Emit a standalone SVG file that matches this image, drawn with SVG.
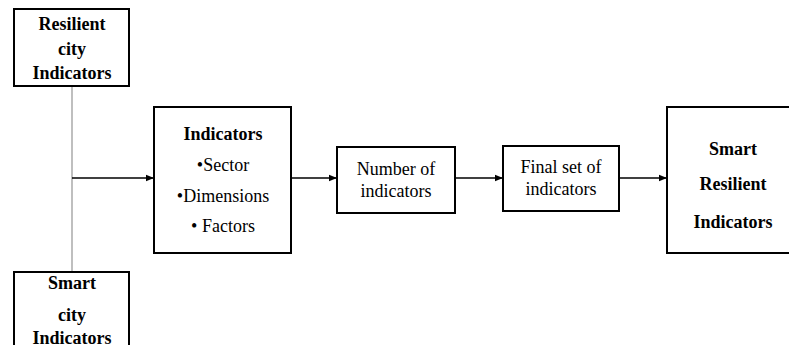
<svg xmlns="http://www.w3.org/2000/svg" width="789" height="345" viewBox="0 0 789 345">
<style>
.box{fill:#fff;stroke:#000;stroke-width:2}
.b{font-weight:bold}
.c{stroke:#000;stroke-width:1.3;fill:none}
</style>
<defs>
<marker id="ah" markerWidth="8" markerHeight="8" refX="7" refY="4" orient="auto" markerUnits="userSpaceOnUse">
<path d="M0,0.8 L8,4 L0,7.2 Z" fill="#000"/>
</marker>
</defs>
<g id="connectors">
<line x1="72" y1="86" x2="72" y2="272" stroke="#aaa" stroke-width="1.5"/>
<line class="c" x1="72" y1="178" x2="153" y2="178" marker-end="url(#ah)"/>
<line class="c" x1="291" y1="178" x2="336" y2="178" marker-end="url(#ah)"/>
<line class="c" x1="455" y1="178" x2="502" y2="178" marker-end="url(#ah)"/>
<line class="c" x1="619" y1="178" x2="666" y2="178" marker-end="url(#ah)"/>
</g>
<g font-family="Liberation Serif, DejaVu Serif, serif" font-size="18" text-anchor="middle" fill="#000">
<g id="resilient-city">
<rect class="box" x="14" y="9" width="115" height="77"/>
<text class="b" x="72" y="30">Resilient</text>
<text class="b" x="72" y="55">city</text>
<text class="b" x="72" y="79">Indicators</text>
</g>
<g id="smart-city">
<rect class="box" x="14" y="272" width="115" height="90"/>
<text class="b" x="72" y="289">Smart</text>
<text class="b" x="72" y="321">city</text>
<text class="b" x="72" y="344">Indicators</text>
</g>
<g id="indicators">
<rect class="box" x="154" y="107" width="137" height="146"/>
<text class="b" x="223" y="140">Indicators</text>
<text x="223" y="171">•Sector</text>
<text x="223" y="202">•Dimensions</text>
<text x="223" y="232">• Factors</text>
</g>
<g id="number">
<rect class="box" x="337" y="147" width="118" height="66"/>
<text x="396" y="175">Number of</text>
<text x="396" y="197">indicators</text>
</g>
<g id="final">
<rect class="box" x="503" y="146" width="116" height="65"/>
<text x="561" y="173">Final set of</text>
<text x="561" y="195">indicators</text>
</g>
<g id="smart-resilient">
<rect class="box" x="667" y="107" width="130" height="146"/>
<text class="b" x="733" y="155">Smart</text>
<text class="b" x="733" y="190">Resilient</text>
<text class="b" x="733" y="228">Indicators</text>
</g>
</g>
</svg>
